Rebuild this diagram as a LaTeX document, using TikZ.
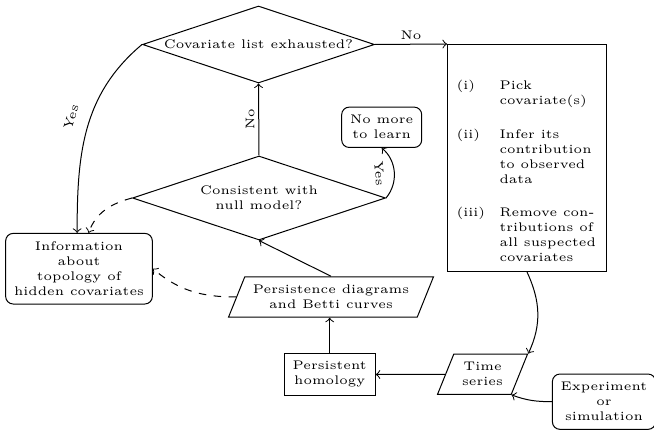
\documentclass[tikz,border=0pt]{standalone}
\usetikzlibrary{shapes.geometric, positioning}

\begin{document}
\begin{tikzpicture}[
    x=0.4pt, y=0.4pt,
    every node/.style={font=\tiny},
    decision/.style={diamond, draw, aspect=3, inner sep=0pt, align=center},
    process/.style={rectangle, draw, align=center},
    terminal/.style={rectangle, draw, rounded corners=3pt, align=center},
    data_io/.style={trapezium, draw, trapezium left angle=68, trapezium right angle=112, trapezium stretches=true, align=center},
    edge_label/.style={inner sep=1.5pt},
    >=to
]
    \useasboundingbox (0,0) rectangle (654,433);

    \node[decision, minimum width=92.8pt, minimum height=30.8pt] (covlist) at (258.5,388.5) {Covariate list exhausted?};
    \node[decision, minimum width=101.2pt, minimum height=33.6pt] (consistent) at (259,235) {Consistent with\\null model?};
    \node[terminal, minimum width=32pt, minimum height=16pt] (nomore) at (381.7,305.7) {No more\\to learn};
    \node[terminal, minimum width=58.4pt, minimum height=27.6pt] (info) at (79,164.3) {Information\\about\\topology of\\hidden covariates};

    \node[process, anchor=north west, minimum width=63.6pt, minimum height=90.8pt] (steps) at (447,389) {};
    \node[anchor=base west, inner sep=0pt] (steplist) at (456,343) {%
        \begin{tabular}[t]{@{}p{17.2pt}@{}l@{}}
        (i)   & Pick\\
              & covariate(s)\\[7.3pt]
        (ii)  & Infer its\\
              & contribution\\
              & to observed\\
              & data\\[7.3pt]
        (iii) & Remove con-\\
              & tributions of\\
              & all suspected\\
              & covariates
        \end{tabular}};

    \node[data_io, minimum width=82.4pt, minimum height=15.8pt] (diagrams) at (331,136) {Persistence diagrams\\and Betti curves};
    \node[process, minimum width=36.4pt, minimum height=16.4pt] (homology) at (329.7,58.5) {Persistent\\homology};
    \node[data_io, minimum width=34.4pt, minimum height=16pt] (series) at (482.5,58.7) {Time\\series};
    \node[terminal, minimum width=39.2pt, minimum height=21.2pt] (experiment) at (604,31.3) {Experiment\\or\\simulation};

    \draw[->] (covlist.east) -- node[edge_label, above] {No} (steps.north west);
    \draw[->] (consistent.north) -- node[edge_label, above, sloped, allow upside down] {No} (covlist.south);
    \draw[->] (consistent.east) to[bend right=45] node[edge_label, below=2.5pt, sloped] {Yes} (nomore.south);
    \draw[->] (covlist.west) to[out=220, in=90] node[edge_label, pos=0.47, above=4pt, sloped] {Yes} (info.93);
    \draw[->, dashed] (consistent.west) to[out=195, in=70] (info.75);
    \draw[->, dashed] (diagrams.left side) to[out=180, in=-40] (info.east);
    \draw[->] (diagrams.north) -- (consistent.south);
    \draw[->] (homology.north) -- (homology.north |- diagrams.bottom side);
    \draw[->] (series.left side) -- (homology.east);
    \draw[->] (steps.south) to[out=-65, in=65] (series.top right corner);
    \draw[->] (experiment.west) to[out=180, in=-20] (series.bottom right corner);
\end{tikzpicture}
\end{document}
